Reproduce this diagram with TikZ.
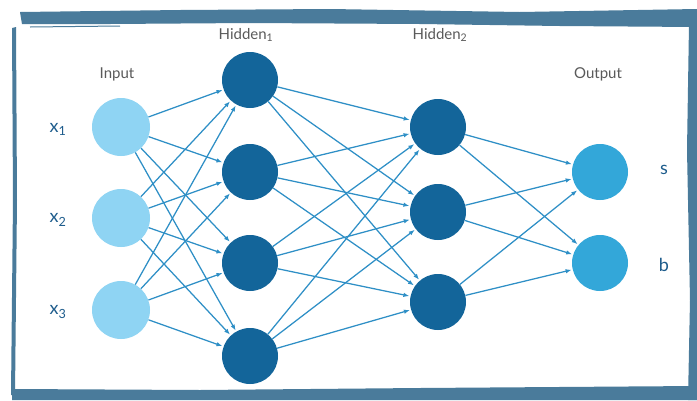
\documentclass[tikz,border=0pt]{standalone}
\usepackage{fontspec}
\setmainfont{Lato}
\usetikzlibrary{arrows.meta}
\definecolor{inblue}{HTML}{8FD4F3}
\definecolor{hidblue}{HTML}{13659A}
\definecolor{outblue}{HTML}{33A7D9}
\definecolor{edgeblue}{HTML}{2E8FC6}
\definecolor{framecol}{HTML}{4A7B9B}
\definecolor{labgray}{HTML}{5A5A5A}
\definecolor{varblue}{HTML}{1D5C8C}
\tikzset{
    netarrow/.style={-{Latex[length=6pt,width=4.5pt]}, draw=edgeblue, line width=1.25pt, shorten >=1pt},
    layerlabel/.style={text=labgray, font=\fontsize{15}{17}\selectfont},
    varlabel/.style={text=varblue, font=\fontsize{18}{20}\selectfont}
}
\begin{document}
\begin{tikzpicture}[x=1pt, y=-1pt,
        inneuron/.style={circle, fill=inblue, minimum size=58pt, inner sep=0pt},
        hidneuron/.style={circle, fill=hidblue, minimum size=56pt, inner sep=0pt},
        outneuron/.style={circle, fill=outblue, minimum size=56pt, inner sep=0pt}
    ]
        \useasboundingbox (0,0) rectangle (697,400);
        \fill[white] (0,0) rectangle (697,400);

        % rough frame
        \fill[framecol] (20,12) -- (180,10) -- (330,9) -- (520,12) -- (697,9) -- (697,27) -- (560,26) -- (420,24) -- (250,23) -- (110,24) -- (22,24) -- cycle;
        \fill[framecol] (12,28) -- (16,27) -- (17,200) -- (15,395) -- (11,395) -- (13,200) -- cycle;
        \fill[framecol] (689,24) -- (697,22) -- (697,400) -- (688,400) -- (690,300) -- (687,150) -- cycle;
        \fill[framecol] (12,389) -- (200,390) -- (420,388) -- (697,386) -- (697,400) -- (12,400) -- cycle;
        \draw[framecol, line width=1pt] (30,27) -- (120,26);

        % neurons
        \node[inneuron] (i1) at (121,127) {};
        \node[inneuron] (i2) at (121,218) {};
        \node[inneuron] (i3) at (121,310) {};
        \node[hidneuron] (h1) at (250,80) {};
        \node[hidneuron] (h2) at (250,172) {};
        \node[hidneuron] (h3) at (250,263) {};
        \node[hidneuron] (h4) at (250,356) {};
        \node[hidneuron] (g1) at (438,127) {};
        \node[hidneuron] (g2) at (438,212) {};
        \node[hidneuron] (g3) at (438,302) {};
        \node[outneuron] (o1) at (600,172) {};
        \node[outneuron] (o2) at (600,263) {};

        % labels
        \node[layerlabel] (linput) at (117,74) {Input};
        \node[layerlabel] (lhid1) at (246,35) {Hidden\textsubscript{1}};
        \node[layerlabel] (lhid2) at (440,35) {Hidden\textsubscript{2}};
        \node[layerlabel] (loutput) at (598,74) {Output};
        \node[varlabel] (x1) at (58,129) {x\textsubscript{1}};
        \node[varlabel] (x2) at (58,220) {x\textsubscript{2}};
        \node[varlabel] (x3) at (58,312) {x\textsubscript{3}};
        \node[varlabel] (ls) at (664,170) {s};
        \node[varlabel] (lb) at (664,265) {b};

        % input -> hidden 1
        \draw[netarrow] (i1) -- (h1);
        \draw[netarrow] (i1) -- (h2);
        \draw[netarrow] (i1) -- (h3);
        \draw[netarrow] (i1) -- (h4);
        \draw[netarrow] (i2) -- (h1);
        \draw[netarrow] (i2) -- (h2);
        \draw[netarrow] (i2) -- (h3);
        \draw[netarrow] (i2) -- (h4);
        \draw[netarrow] (i3) -- (h1);
        \draw[netarrow] (i3) -- (h2);
        \draw[netarrow] (i3) -- (h3);
        \draw[netarrow] (i3) -- (h4);

        % hidden 1 -> hidden 2
        \draw[netarrow] (h1) -- (g1);
        \draw[netarrow] (h1) -- (g2);
        \draw[netarrow] (h1) -- (g3);
        \draw[netarrow] (h2) -- (g1);
        \draw[netarrow] (h2) -- (g2);
        \draw[netarrow] (h2) -- (g3);
        \draw[netarrow] (h3) -- (g1);
        \draw[netarrow] (h3) -- (g2);
        \draw[netarrow] (h3) -- (g3);
        \draw[netarrow] (h4) -- (g1);
        \draw[netarrow] (h4) -- (g2);
        \draw[netarrow] (h4) -- (g3);

        % hidden 2 -> output
        \draw[netarrow] (g1) -- (o1);
        \draw[netarrow] (g1) -- (o2);
        \draw[netarrow] (g2) -- (o1);
        \draw[netarrow] (g2) -- (o2);
        \draw[netarrow] (g3) -- (o1);
        \draw[netarrow] (g3) -- (o2);
    \end{tikzpicture}
\end{document}
